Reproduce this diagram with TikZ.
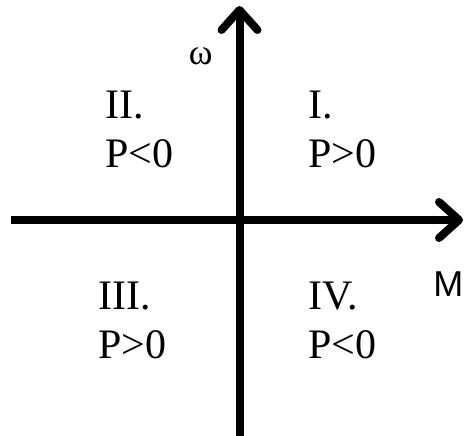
\documentclass[tikz,border=0pt]{standalone}
\usepackage{fontspec}
\setmainfont{Liberation Serif}
\newfontfamily\axisfont{Liberation Sans}
\usetikzlibrary{arrows.meta}

\begin{document}
\begin{tikzpicture}[x=1pt, y=1pt,
  axis/.style={line width=8pt, -{Straight Barb[length=20pt, width=36pt, line cap=round, line join=round]}},
  quad/.style={anchor=base west, align=left, inner sep=0pt, font=\fontsize{42}{49}\selectfont}]
  \useasboundingbox (0,0) rectangle (464,436);
  % axes
  \coordinate (mleft) at (11,216);
  \coordinate (mright) at (463,216);
  \coordinate (wbottom) at (239.5,-4);
  \coordinate (wtop) at (239.5,430);
  \draw[axis] (mleft) -- (mright);
  \draw[axis] (wbottom) -- (wtop);
  \node[font=\fontsize{36}{36}\selectfont] (omega) at (200.7,379.3) {ω};
  \node[anchor=base east, inner sep=0pt, font=\axisfont\fontsize{36}{36}\selectfont] (mlabel) at (463.5,139) {M};
  % quadrants (anchored at the baseline of the second line)
  \node[quad] (q1) at (308,268) {I.\\P>0};
  \node[quad] (q2) at (105,268) {II.\\P<0};
  \node[quad] (q3) at (98,77)   {III.\\P>0};
  \node[quad] (q4) at (308,77)  {IV.\\P<0};
\end{tikzpicture}
\end{document}
